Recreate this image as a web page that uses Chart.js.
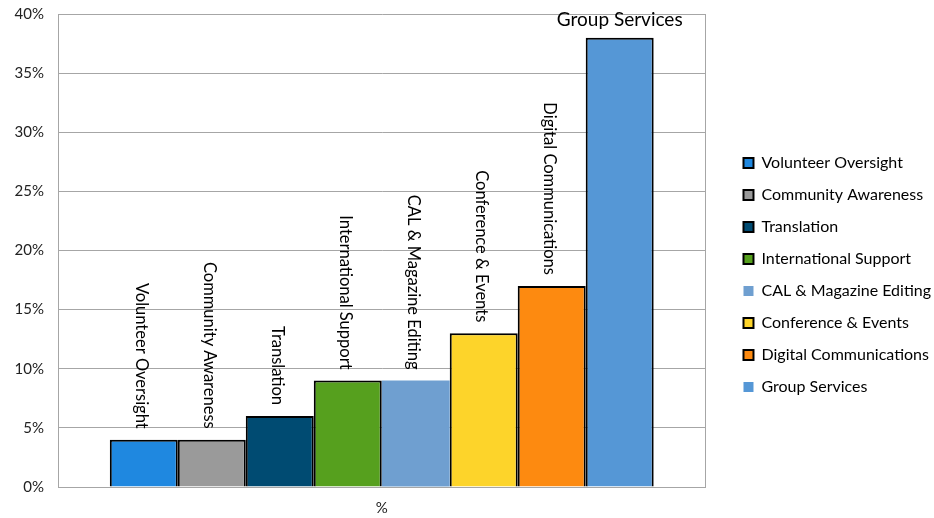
<!DOCTYPE html>
<html>
<head>
<meta charset="utf-8">
<script src="https://cdn.jsdelivr.net/npm/chart.js@4"></script>
<style>
  body { margin: 0; background: #fff; }
</style>
</head>
<body>
<canvas id="graph" width="934" height="518"></canvas>
<script>
// chart data
const categories = ['%'];
const teams = ['Volunteer Oversight', 'Community Awareness', 'Translation', 'International Support',
  'CAL & Magazine Editing', 'Conference & Events', 'Digital Communications', 'Group Services'];
const shares = [4, 4, 6, 9, 9, 13, 17, 38];
const colors = ['#1f88e0', '#9a9a9a', '#004b72', '#56a01e', '#6f9fd0', '#fdd42a', '#fd8a10', '#5597d6'];
const yTicks = [0, 5, 10, 15, 20, 25, 30, 35, 40];

const fontFamily = 'Lato, "Open Sans", sans-serif';
const legendExtra = 15;
const legendShift = 22;

// names written above each bar
const barLabels = {
  id: 'barLabels',
  afterDatasetsDraw(chart) {
    const ctx = chart.ctx;
    ctx.save();
    ctx.fillStyle = '#000';
    chart.data.datasets.forEach((ds, i) => {
      const bar = chart.getDatasetMeta(i).data[0];
      if (i === chart.data.datasets.length - 1) {
        ctx.font = '19px ' + fontFamily;
        ctx.textAlign = 'center';
        ctx.textBaseline = 'middle';
        ctx.fillText(ds.label, bar.x, bar.y - 18);
      } else {
        ctx.save();
        ctx.translate(bar.x - 2, bar.y - 11);
        ctx.rotate(Math.PI / 2);
        ctx.font = '16.5px ' + fontFamily;
        ctx.textAlign = 'right';
        ctx.textBaseline = 'middle';
        ctx.fillText(ds.label, 0, 0);
        ctx.restore();
      }
    });
    ctx.restore();
  }
};

// leave more room between the plot and the legend
const legendSpace = {
  id: 'legendSpace',
  beforeLayout(chart) {
    const legend = chart.legend;
    if (legend && !legend._wrapped) {
      const fit = legend.fit;
      legend.fit = function () {
        fit.call(this);
        this.width += legendExtra;
      };
      legend._wrapped = true;
    }
  },
  afterLayout(chart) {
    chart.legend.left += legendShift;
    chart.legend.top += 16;
    chart.legend.bottom += 16;
  }
};

const ctx = document.getElementById('graph').getContext('2d');
new Chart(ctx, {
  type: 'bar',
  data: {
    labels: categories,
    datasets: teams.map((name, i) => ({
      label: name,
      data: [shares[i]],
      backgroundColor: colors[i],
      borderColor: '#000',
      borderWidth: name === 'CAL & Magazine Editing' ? 0 : 2,
      categoryPercentage: 0.84,
      barPercentage: 1
    }))
  },
  options: {
    responsive: false,
    animation: false,
    layout: { padding: 0 },
    plugins: {
      tooltip: { enabled: false },
      legend: {
        position: 'right',
        labels: {
          font: { family: fontFamily, size: 16 },
          color: '#000',
          boxWidth: 10,
          boxHeight: 10,
          padding: 16,
          generateLabels(chart) {
            return chart.data.datasets.map((ds, i) => ({
              text: ds.label,
              fillStyle: ds.backgroundColor,
              strokeStyle: '#000',
              lineWidth: (i === 4 || i === 7) ? 0 : 2,
              datasetIndex: i
            }));
          }
        }
      }
    },
    scales: {
      x: {
        afterFit: scale => { scale.height = 31; },
        grid: { display: true, color: '#a6a6a6', offset: true, drawTicks: false },
        border: { color: '#a6a6a6' },
        ticks: { font: { family: fontFamily, size: 15 }, color: '#222', padding: 12 }
      },
      y: {
        min: 0,
        max: 40,
        afterFit: scale => {
          scale.width = 58;
          scale.paddingTop = 14;
          scale.paddingBottom = 0;
        },
        afterBuildTicks: axis => { axis.ticks = yTicks.map(v => ({ value: v })); },
        grid: { color: '#a6a6a6', drawTicks: false },
        border: { color: '#a6a6a6' },
        ticks: {
          font: { family: fontFamily, size: 15 },
          color: '#222',
          padding: 14,
          callback: v => v + '%'
        }
      }
    }
  },
  plugins: [barLabels, legendSpace]
});
</script>
</body>
</html>
